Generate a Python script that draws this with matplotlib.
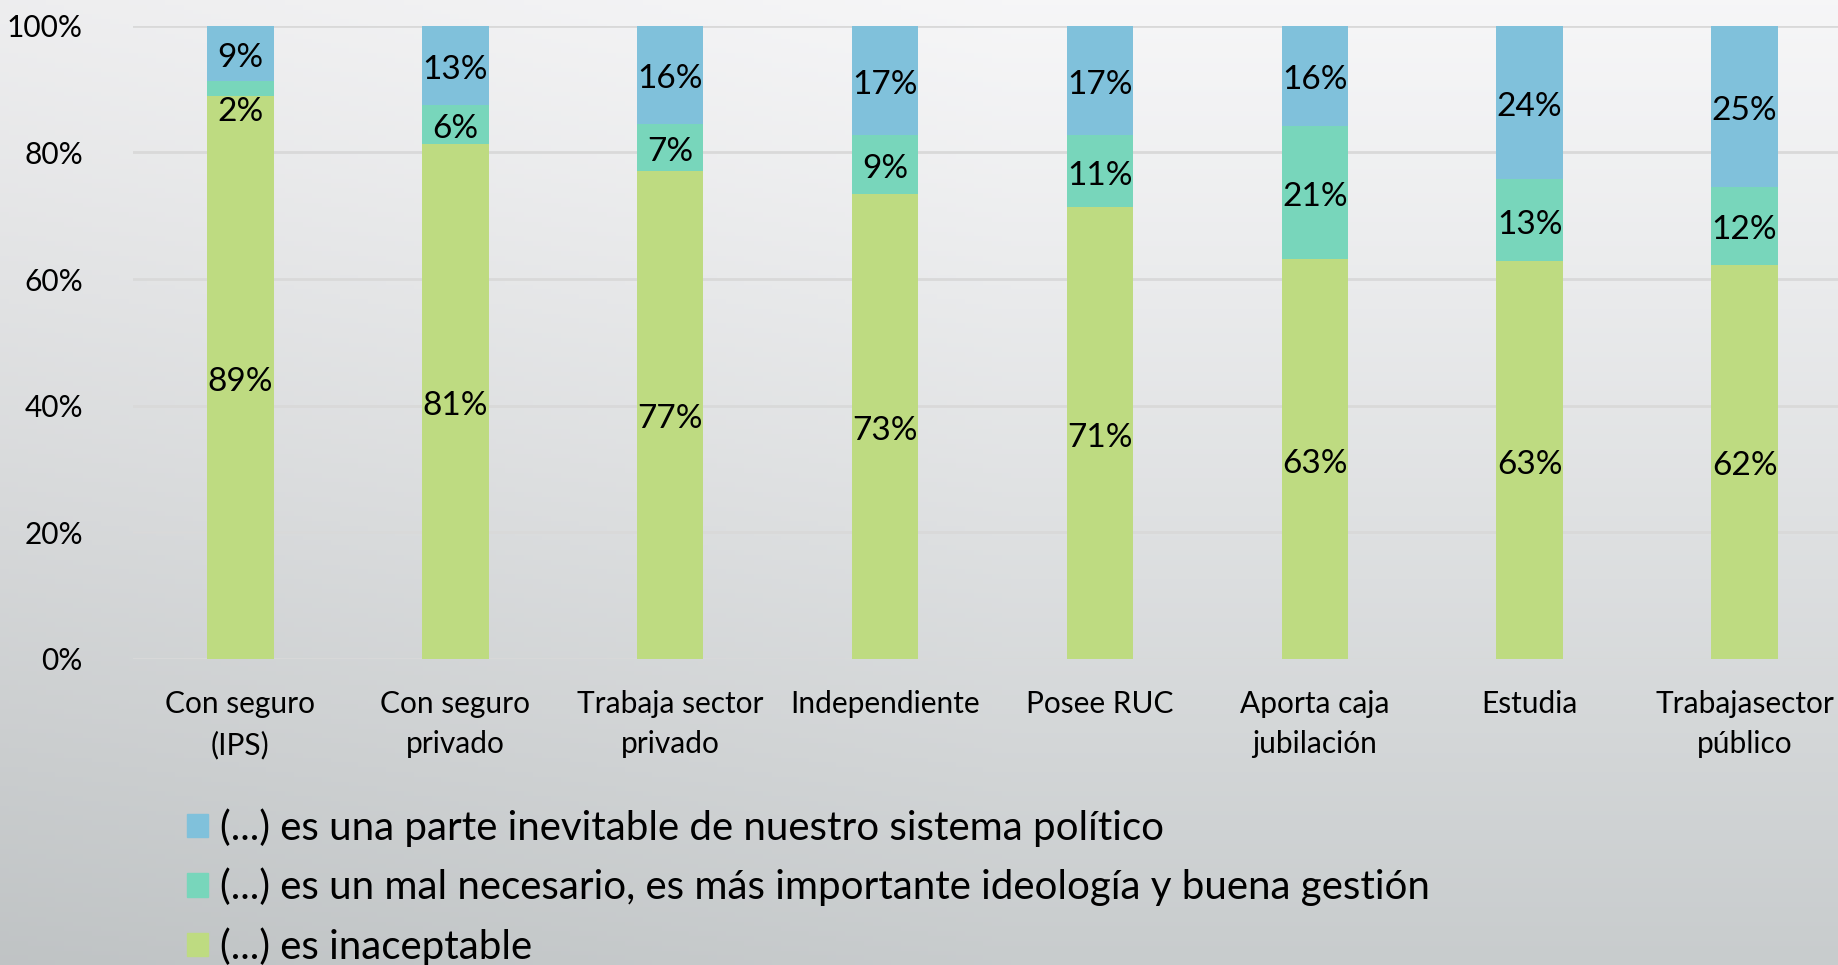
import numpy as np
import matplotlib.pyplot as plt
from matplotlib.patches import Patch

plt.rcParams['font.family'] = ['Lato', 'DejaVu Sans']

# ─── Data ────────────────────────────────────────────────────────────
categories = ['Con seguro\n(IPS)', 'Con seguro\nprivado', 'Trabaja sector\nprivado',
              'Independiente', 'Posee RUC', 'Aporta caja\njubilación', 'Estudia',
              'Trabajasector\npúblico']
inaceptable = [88.9, 81.3, 77.1, 73.4, 71.3, 63.1, 62.8, 62.2]
mal_necesario = [2.4, 6.1, 7.4, 9.4, 11.4, 21.1, 13.0, 12.4]
parte_inevitable = [8.7, 12.6, 15.5, 17.2, 17.3, 15.8, 24.2, 25.4]
series_labels = ['(...) es una parte inevitable de nuestro sistema político',
                 '(...) es un mal necesario, es más importante ideología y buena gestión',
                 '(...) es inaceptable']
yticks = [0, 20, 40, 60, 80, 100]

c_blue = '#80C1DB'
c_teal = '#78D6BB'
c_green = '#BEDB81'

# ─── Figure with gradient background ─────────────────────────────────
fig = plt.figure(figsize=(18.38, 9.65), dpi=100)
bg = fig.add_axes([0, 0, 1, 1], zorder=-10)
yy, xx = np.mgrid[0:1:200j, 0:1:200j]
top = np.array([0.965, 0.965, 0.970])
bot = np.array([0.785, 0.800, 0.805])
t = yy ** 1.1
img = top[None, None, :] * (1 - t[..., None]) + bot[None, None, :] * t[..., None]
# darker toward the left side
img = img - (0.06 * np.clip(0.55 - xx, 0, None))[..., None]
bg.imshow(img, aspect='auto', extent=[0, 1, 1, 0])
bg.axis('off')

ax = fig.add_axes([133 / 1838, 1 - 659 / 965, (1852 - 133) / 1838, (659 - 25.7) / 965])
ax.patch.set_alpha(0)

x = np.arange(len(categories))
w = 0.31
ax.bar(x, inaceptable, w, color=c_green, zorder=3)
ax.bar(x, mal_necesario, w, bottom=inaceptable, color=c_teal, zorder=3)
bottom3 = np.array(inaceptable) + np.array(mal_necesario)
ax.bar(x, parte_inevitable, w, bottom=bottom3, color=c_blue, zorder=3)

# data labels (centered, nudged a bit down like the original font)
dy = -0.7
for i in range(len(x)):
    ax.text(x[i], inaceptable[i] / 2 + dy, f'{round(inaceptable[i])}%', ha='center',
            va='center', fontsize=24, zorder=4)
    yb = inaceptable[i] + mal_necesario[i] / 2 + dy
    if mal_necesario[i] < 4:
        yb = inaceptable[i] - 2.6
    ax.text(x[i], yb, f'{round(mal_necesario[i])}%', ha='center', va='center',
            fontsize=24, zorder=4)
    ax.text(x[i], bottom3[i] + parte_inevitable[i] / 2 + dy,
            f'{round(parte_inevitable[i])}%', ha='center', va='center',
            fontsize=24, zorder=4)

ax.set_xlim(-0.5, 7.5)
ax.set_ylim(0, 100)
ax.set_yticks(yticks)
ax.set_yticklabels([f'{v}%' for v in yticks])
ax.set_xticks(x)
ax.set_xticklabels(categories, linespacing=1.55)
ax.tick_params(axis='both', length=0, labelsize=21.5)
ax.tick_params(axis='y', pad=36)
ax.tick_params(axis='x', pad=22)
ax.grid(axis='y', color='#d9d9d9', linewidth=2, zorder=0)
for s in ax.spines.values():
    s.set_visible(False)

handles = [Patch(color=c_blue), Patch(color=c_teal), Patch(color=c_green)]
fig.legend(handles, series_labels, loc='upper left', bbox_to_anchor=(187 / 1838, 1 - 808 / 965),
           frameon=False, fontsize=29, handlelength=0.52, handleheight=0.52,
           handletextpad=0.3, labelspacing=0.52, borderpad=0, borderaxespad=0)

plt.savefig('out.png', dpi=100)
